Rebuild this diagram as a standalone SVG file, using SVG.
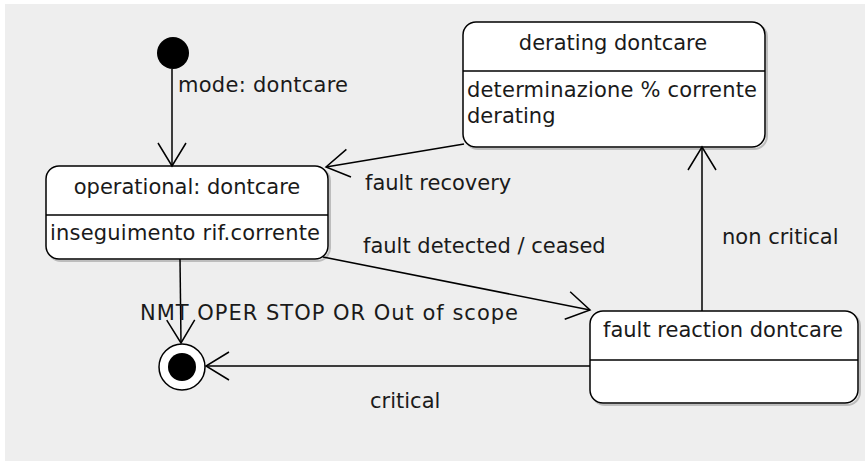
<svg xmlns="http://www.w3.org/2000/svg" width="865" height="461" viewBox="0 0 865 461">
<defs>
<style>
text{font-family:"DejaVu Sans","Liberation Sans",sans-serif;font-size:21px;fill:#1a1a1a}
.box{fill:#fff;stroke:#000;stroke-width:1.5}
.shadow{fill:none;stroke:#bdbdbd;stroke-width:2}
.div{stroke:#000;stroke-width:1.5}
.edge{fill:none;stroke:#000;stroke-width:1.5}
.mid{text-anchor:middle}
</style>
<marker id="arr" markerUnits="userSpaceOnUse" markerWidth="40" markerHeight="40" viewBox="-30 -20 40 40" refX="0" refY="0" orient="auto" overflow="visible">
<path d="M-23,-14 L0,0 L-23,14" fill="none" stroke="#000" stroke-width="1.5"/>
</marker>
</defs>
<rect x="0" y="0" width="865" height="461" fill="#fff"/>
<rect x="5" y="4" width="860" height="457" fill="#eeeeee"/>

<g id="initial">
<circle cx="173" cy="53" r="16" fill="#000"/>
</g>

<g id="operational">
<rect class="shadow" x="48" y="168" width="282" height="93" rx="13"/>
<rect class="box" x="46" y="166" width="282" height="93" rx="13"/>
<line class="div" x1="46" y1="215" x2="328" y2="215"/>
<text class="mid" x="187" y="194">operational: dontcare</text>
<text x="50" y="240" textLength="270" lengthAdjust="spacing">inseguimento rif.corrente</text>
</g>

<g id="derating">
<rect class="shadow" x="465" y="24" width="302" height="125" rx="13"/>
<rect class="box" x="463" y="22" width="302" height="125" rx="13"/>
<line class="div" x1="463" y1="71" x2="765" y2="71"/>
<text class="mid" x="613" y="50">derating dontcare</text>
<text x="467" y="97" textLength="290" lengthAdjust="spacing">determinazione % corrente</text>
<text x="467" y="123">derating</text>
</g>

<g id="faultreaction">
<rect class="shadow" x="592" y="313" width="268" height="92" rx="13"/>
<rect class="box" x="590" y="311" width="268" height="92" rx="13"/>
<line class="div" x1="590" y1="360" x2="858" y2="360"/>
<text class="mid" x="723" y="337">fault reaction dontcare</text>
</g>

<g id="final">
<circle cx="182" cy="367" r="23" fill="#fff" stroke="#000" stroke-width="1.5"/>
<circle cx="182" cy="367" r="14" fill="#000"/>
</g>

<g id="connectors">
<line class="edge" x1="172" y1="69" x2="172" y2="166" marker-end="url(#arr)"/>
<line class="edge" x1="464" y1="144" x2="326" y2="167" marker-end="url(#arr)"/>
<line class="edge" x1="323" y1="257" x2="590" y2="310" marker-end="url(#arr)"/>
<line class="edge" x1="702" y1="311" x2="702" y2="147" marker-end="url(#arr)"/>
<line class="edge" x1="180" y1="259" x2="181" y2="343" marker-end="url(#arr)"/>
<line class="edge" x1="590" y1="366" x2="206" y2="366" marker-end="url(#arr)"/>
<text x="178" y="92" textLength="170" lengthAdjust="spacing">mode: dontcare</text>
<text x="365" y="190">fault recovery</text>
<text x="363" y="253">fault detected / ceased</text>
<text x="722" y="244">non critical</text>
<text x="140" y="320" textLength="378" lengthAdjust="spacing">NMT OPER STOP OR Out of scope</text>
<text x="370" y="408">critical</text>
</g>
</svg>
